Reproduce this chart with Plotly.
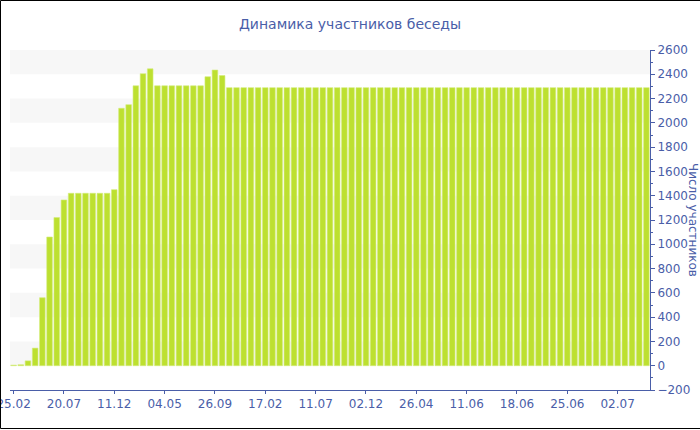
import plotly.graph_objects as go

# ---- data ----
participants = [
    5, 8, 40, 145, 560, 1060, 1220, 1365, 1420, 1420,
    1420, 1420, 1420, 1420, 1450, 2120, 2150, 2305, 2405, 2445,
    2305, 2305, 2305, 2305, 2305, 2305, 2305, 2380, 2435, 2390,
] + [2290] * 59
tick_labels = ["25.02", "20.07", "11.12", "04.05", "26.09", "17.02", "11.07",
               "02.12", "26.04", "11.06", "18.06", "25.06", "02.07"]
tick_step = 7
title_text = "Динамика участников беседы"
yaxis_title = "Число участников"

x_idx = list(range(len(participants)))
tick_vals = [i * tick_step for i in range(len(tick_labels))]

W, H = 700, 430
ML, MR, MT, MB = 10, 50, 50, 40
PW, PH = W - ML - MR, H - MT - MB

axis_col = "#4a5ea8"
font_fam = "DejaVu Sans, Verdana, sans-serif"

fig = go.Figure()
fig.add_trace(go.Bar(
    x=x_idx, y=participants,
    marker=dict(color="#bde030", line=dict(color="#d4ec7a", width=0.6)),
    hoverinfo="y",
))

shapes = []
# alternating background bands
for lo in range(0, 2600, 400):
    shapes.append(dict(type="rect", xref="paper", yref="y", x0=0, x1=1,
                       y0=lo, y1=lo + 200, fillcolor="#f7f7f7",
                       line=dict(width=0), layer="below"))

def px_x(p):
    return (p - ML) / PW

def px_y(p):
    return (H - MB - p) / PH

# outer frame (left, top, bottom)
for (xa, ya, xb, yb) in [(0.5, 0.5, 0.5, 428.5), (0.5, 0.5, 700, 0.5), (0.5, 428.5, 700, 428.5)]:
    shapes.append(dict(type="line", xref="paper", yref="paper",
                       x0=px_x(xa), y0=px_y(ya), x1=px_x(xb), y1=px_y(yb),
                       line=dict(color="black", width=1)))

fig.update_layout(
    width=W, height=H,
    margin=dict(l=ML, r=MR, t=MT, b=MB, pad=0, autoexpand=False),
    paper_bgcolor="white", plot_bgcolor="white",
    bargap=0.22,
    showlegend=False,
    font=dict(family=font_fam, size=12, color=axis_col),
    title=dict(text=title_text, x=0.5, xref="container", xanchor="center",
               y=1 - 24 / H, yanchor="middle",
               font=dict(family=font_fam, size=14, color=axis_col)),
    shapes=shapes,
    xaxis=dict(
        range=[-0.5, len(participants) - 0.5],
        tickmode="array", tickvals=tick_vals, ticktext=tick_labels,
        showgrid=False, zeroline=False, automargin=False,
        ticklabeloverflow="allow",
        showline=True, linecolor=axis_col, linewidth=1,
        ticks="outside", ticklen=3, tickcolor=axis_col,
        tickfont=dict(size=12, color=axis_col),
    ),
    yaxis=dict(
        side="right", range=[-200, 2600], dtick=200, tick0=0,
        showgrid=False, zeroline=False, automargin=False,
        ticklabeloverflow="allow",
        showline=True, linecolor=axis_col, linewidth=1,
        ticks="outside", ticklen=4, tickcolor=axis_col,
        tickfont=dict(size=12, color=axis_col),
        minor=dict(dtick=100, ticks="outside", ticklen=2, tickcolor=axis_col),
    ),
    annotations=[dict(
        text=yaxis_title, textangle=90, xref="paper", yref="paper",
        x=px_x(693), y=0.5, xanchor="center", yanchor="middle",
        showarrow=False, font=dict(family=font_fam, size=12, color=axis_col),
    )],
)

fig.write_html("out.html",
               config={"displayModeBar": False},
               post_script="document.body.style.margin='0';document.body.style.overflow='hidden';")
